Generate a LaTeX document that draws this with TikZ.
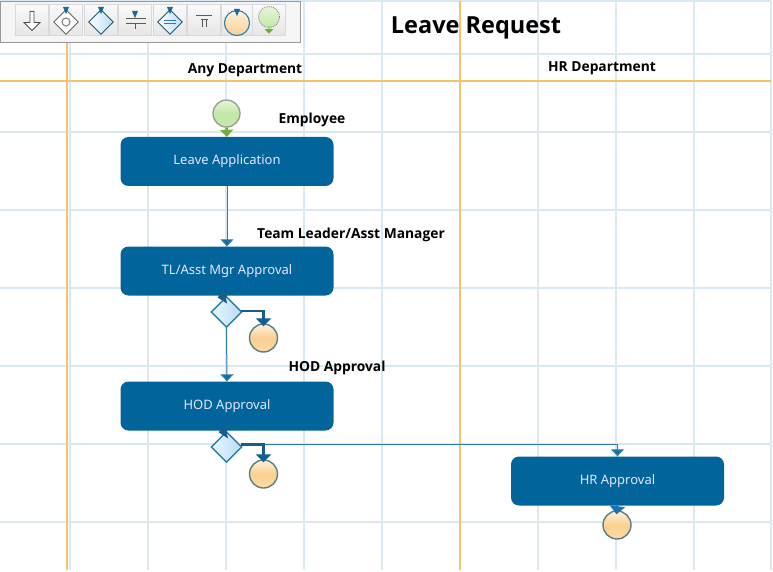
\documentclass[tikz,border=0pt]{standalone}
\usepackage{fontspec}
\setmainfont{Noto Sans}
\newfontfamily\labf{Open Sans}
\usetikzlibrary{shapes.geometric,shapes.arrows,arrows.meta}
\definecolor{gridc}{HTML}{DCE8F0}
\definecolor{orangel}{HTML}{F5C36E}
\definecolor{taskb}{HTML}{01659B}
\definecolor{linec}{HTML}{2B7DAA}
\definecolor{tipc}{HTML}{1A6A9C}
\definecolor{tipd}{HTML}{175E8C}
\definecolor{tipb}{HTML}{1A72B5}
\definecolor{greenl}{HTML}{6DAE3C}
\definecolor{startt}{HTML}{E4F5D8}
\definecolor{startb}{HTML}{C4E8A8}
\definecolor{endt}{HTML}{FFF0DC}
\definecolor{endb}{HTML}{FBD090}
\definecolor{gatec}{HTML}{B8DDF6}
\tikzset{
  x=1pt,y=-1pt,
  gridline/.style={draw=gridc,line width=1.3pt},
  laneline/.style={draw=orangel,line width=1.2pt},
  task/.style={draw=none,fill=taskb,rounded corners=8pt,minimum width=213pt,minimum height=49pt,text=white!90!blue,font=\fontsize{13}{15}\selectfont,inner sep=0pt},
  startev/.style={circle,draw=black!40,line width=1.3pt,minimum size=27pt,inner sep=0pt,top color=startt,bottom color=startb,middle color=startb},
  endev/.style={circle,draw=gray!70!teal,line width=1.4pt,minimum size=28pt,inner sep=0pt,top color=endt,bottom color=endb!80!white,middle color=endb},
  gate/.style={diamond,aspect=1,draw=linec,line width=1.4pt,minimum size=31pt,inner sep=0pt,left color=white!70!gatec,right color=gatec},
  flow/.style={draw=linec,line width=1pt,-{Triangle[width=13pt,length=7pt,fill=tipc]}},
  flowb/.style={draw=tipd,line width=2.4pt,-{Triangle[width=15pt,length=8pt,fill=tipd]}},
  flowthin/.style={draw=linec,line width=1.3pt},
  lab/.style={font=\labf\bfseries\fontsize{13.8}{15}\selectfont,inner sep=0pt},
  tbbtn/.style={draw=black!15,top color=black!2,bottom color=black!10,minimum width=33pt,minimum height=31pt,inner sep=0pt},
  tbshape/.style={diamond,aspect=1,draw=black!60,line width=.9pt,minimum size=25pt,inner sep=0pt,fill=white},
  tbtip/.style={fill=tipc,draw=none,isosceles triangle,shape border rotate=270,minimum size=6pt,inner sep=0pt}
}
\begin{document}
\begin{tikzpicture}
\useasboundingbox (0,0) rectangle (773,572);
\fill[white] (0,0) rectangle (773,572);
% grid
\foreach \x in {70,148,226,304,382,538,616,694,771}
  \draw[gridline] (\x,1) -- (\x,570);
\foreach \y in {1,54,132,210,288,366,444,522}
  \draw[gridline] (0,\y) -- (771,\y);
% lanes
\draw[laneline] (67,43) -- (67,570);
\draw[laneline] (460,1) -- (460,570);
\draw[laneline] (0,81) -- (771,81);
% toolbar
\node[draw=black!40,fill=black!4,line width=.9pt,minimum width=300pt,minimum height=41pt,inner sep=0pt] (tb) at (150,21.5) {};
\node[tbbtn,fill=white] (b1) at (32,20) {};
\node[tbbtn] (b2) at (66,20) {};
\node[tbbtn] (b3) at (101,20) {};
\node[tbbtn] (b4) at (135,20) {};
\node[tbbtn] (b5) at (170,20) {};
\node[tbbtn] (b6) at (204,20) {};
\node[tbbtn] (b7) at (238,20) {};
\node[tbbtn] (b8) at (269,20) {};
\node[single arrow,shape border rotate=270,draw=black!70,fill=white,line width=.8pt,minimum width=16pt,minimum height=19pt,single arrow head extend=4pt,inner sep=1pt] (a1) at (b1) {};
\node[tbshape] (d2) at (66,22) {};
\node[circle,draw=black!45,line width=1.2pt,minimum size=8pt,inner sep=0pt] (d2c) at (d2) {};
\node[tbtip] (t2) at (66,9) {};
\node[tbshape,draw=linec!70!black,left color=white,right color=gatec] (d3) at (101,22) {};
\node[tbtip] (t3) at (101,9) {};
\node[tbtip] (t4) at (135,13) {};
\coordinate (l4a) at (126,18); \coordinate (l4b) at (146,18);
\coordinate (l4c) at (126,23); \coordinate (l4d) at (146,23);
\draw[black!65,line width=.9pt] (l4a) -- (l4b) (l4c) -- (l4d);
\draw[black!65,line width=.9pt] (135,23) -- (135,29);
\node[tbshape,draw=linec!70!black,left color=white,right color=gatec] (d5) at (170,22) {};
\node[tbtip] (t5) at (170,9) {};
\draw[linec,line width=.8pt] (164,20) -- (176,20) (164,23) -- (176,23);
\draw[black!65,line width=.9pt] (196,15) -- (212,15) (201,19) -- (208,19) (202,19) -- (202,27) (206,19) -- (206,27);
\node[circle,draw=linec,line width=1.1pt,minimum size=25pt,inner sep=0pt,top color=endt,bottom color=endb] (e7) at (237,23) {};
\node[tbtip] (t7) at (237,11) {};
\node[circle,draw=black!45,densely dotted,line width=.9pt,minimum size=21pt,inner sep=0pt,top color=startt,bottom color=startb] (s8) at (269,17) {};
\node[single arrow,shape border rotate=270,draw=none,fill=greenl,minimum width=9pt,minimum height=7pt,single arrow head extend=2pt,inner sep=0pt] (s8a) at (269,30) {};
% title & labels
\node[font=\labf\bfseries\fontsize{23.5}{26}\selectfont,inner sep=0pt] (title) at (476,28) {Leave Request};
\node[lab] (any) at (245,70) {Any Department};
\node[lab] (hr) at (602,68) {HR Department};
\node[lab] (emp) at (312,120) {Employee};
\node[lab] (tl) at (351,235) {Team Leader/Asst Manager};
\node[lab] (hod) at (337,368) {HOD Approval};
% tasks
\node[task] (t1) at (227,161.5) {Leave Application};
\node[task] (t2b) at (227,271) {\raisebox{3.5pt}{TL/Asst Mgr Approval}};
\node[task] (t3b) at (227,406) {\raisebox{3.5pt}{HOD Approval}};
\node[task] (t4b) at (617.5,481) {\raisebox{3.5pt}{HR Approval}};
% events
\node[startev] (st) at (226.5,113.5) {};
\node[endev] (e1) at (263.5,338) {};
\node[endev] (e2) at (263.5,474) {};
\node[endev] (e3) at (617,525) {};
\node[gate] (g1) at (226.5,312) {};
\node[gate] (g2) at (226.5,447) {};
\coordinate (h1) at (241,311);
\coordinate (h2) at (241,444.5);
% connectors
\draw[greenl,line width=2.5pt,-{Triangle[width=13pt,length=7pt,fill=greenl]}] (st.south) -- (t1.north);
\draw[flow] (t1.south) -- (t2b.north);
\draw[flowb,shorten >=-9pt] (t2b.south) -- (g1.north);
\draw[flow] (g1.south) -- (t3b.north);
\draw[flowb,shorten >=-8pt] (t3b.south) -- (g2.north);
\draw[flowthin,-{Triangle[width=13pt,length=7pt,fill=tipc]}] (h2) -| (t4b.north);
\draw[flowb,shorten >=-3pt] (h1) -| (e1.north);
\draw[flowb,shorten >=-3pt] (h2) -| (e2.north);
\draw[draw=tipb,line width=2.4pt,-{Triangle[width=15pt,length=8pt,fill=tipb]},shorten >=-4pt] (t4b.south) -- (e3.north);
\end{tikzpicture}
\end{document}
